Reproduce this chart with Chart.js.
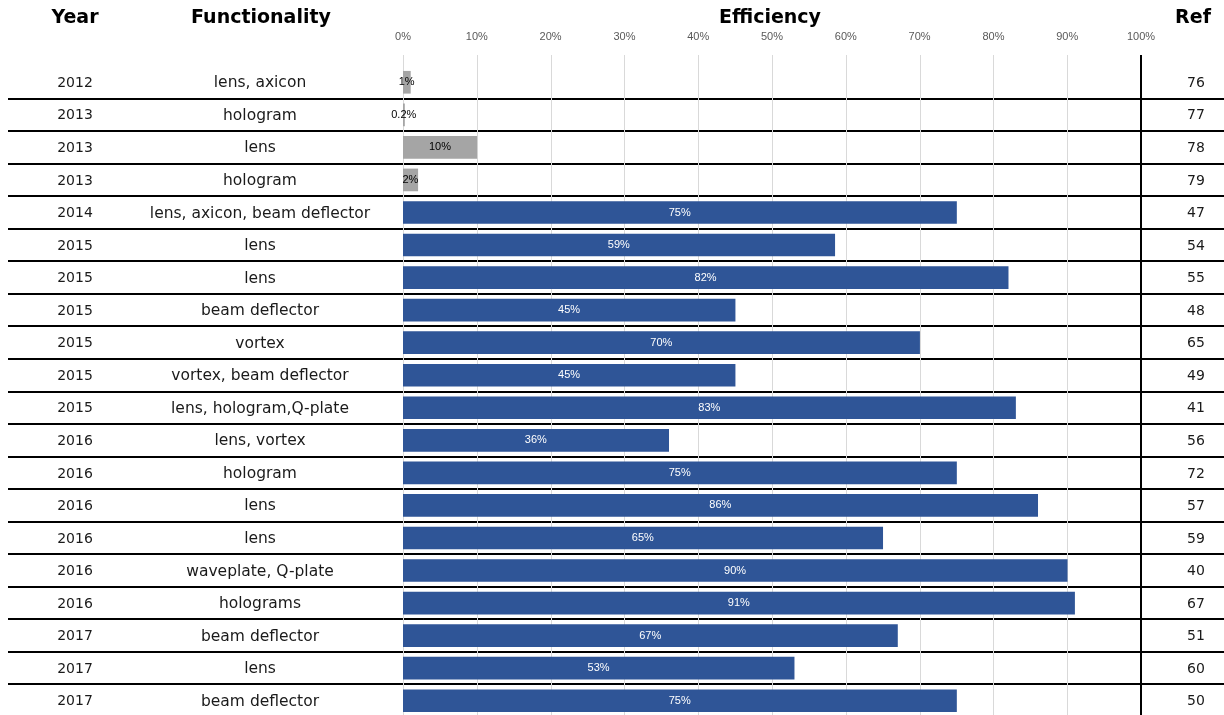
<!DOCTYPE html>
<html><head><meta charset="utf-8">
<script src="https://cdn.jsdelivr.net/npm/chart.js@4"></script>
<style>html,body{margin:0;padding:0;background:#fff;overflow:hidden}#wrap{width:1224px;height:717px;position:relative}</style>
</head><body><div id="wrap"><canvas id="c"></canvas></div>
<script>
const years = ["2012","2013","2013","2013","2014","2015","2015","2015","2015","2015","2015","2016","2016","2016","2016","2016","2016","2017","2017","2017"];
const functionality = ["lens, axicon","hologram","lens","hologram","lens, axicon, beam deflector","lens","lens","beam deflector","vortex","vortex, beam deflector","lens, hologram,Q-plate","lens, vortex","hologram","lens","lens","waveplate, Q-plate","holograms","beam deflector","lens","beam deflector"];
const efficiency = [1,0.2,10,2,75,58.5,82,45,70,45,83,36,75,86,65,90,91,67,53,75];
const refs = ["76","77","78","79","47","54","55","48","65","49","41","56","72","57","59","40","67","51","60","50"];
const xTicks = [0,10,20,30,40,50,60,70,80,90,100];
const headers = ["Year","Functionality","Efficiency","Ref"];

const GRAY = '#A5A5A5', BLUE = '#2F5597';
const TXT = "'DejaVu Sans', sans-serif";

const tablePlugin = {
  id: 'table',
  beforeDatasetsDraw(chart) {
    const ctx = chart.ctx, xs = chart.scales.x, ys = chart.scales.y, ca = chart.chartArea;
    ctx.save();
    ctx.strokeStyle = '#000'; ctx.lineWidth = 2;
    for (let i = 0; i < years.length - 1; i++) {
      const y = Math.round((ys.getPixelForValue(i) + ys.getPixelForValue(i + 1)) / 2);
      ctx.beginPath(); ctx.moveTo(8, y); ctx.lineTo(1224, y); ctx.stroke();
    }
    ctx.strokeStyle = '#D9D9D9'; ctx.lineWidth = 1;
    xTicks.slice(0, -1).forEach(t => {
      const x = Math.round(xs.getPixelForValue(t)) + 0.5;
      ctx.beginPath(); ctx.moveTo(x, 55); ctx.lineTo(x, ca.bottom); ctx.stroke();
    });
    ctx.restore();
  },
  afterDatasetsDraw(chart) {
    const ctx = chart.ctx, meta = chart.getDatasetMeta(0);
    ctx.save();
    ctx.font = "11px 'Liberation Sans', sans-serif";
    ctx.textAlign = 'center'; ctx.textBaseline = 'middle';
    meta.data.forEach((bar, i) => {
      const v = efficiency[i];
      const txt = (v < 1 ? v.toFixed(1) : Math.round(v)) + '%';
      ctx.fillStyle = i < 4 ? '#000' : '#fff';
      ctx.fillText(txt, (bar.x + bar.base) / 2, bar.y);
    });
    ctx.restore();
  },
  afterDraw(chart) {
    const ctx = chart.ctx, xs = chart.scales.x, ys = chart.scales.y, ca = chart.chartArea;
    ctx.save();
    ctx.strokeStyle = '#000'; ctx.lineWidth = 2;
    const x100 = Math.round(xs.getPixelForValue(100));
    ctx.beginPath(); ctx.moveTo(x100, 55); ctx.lineTo(x100, ca.bottom); ctx.stroke();
    ctx.fillStyle = '#000';
    ctx.font = "bold 19px " + TXT;
    ctx.textBaseline = 'middle'; ctx.textAlign = 'center';
    ctx.fillText(headers[0], 75, 18);
    ctx.fillText(headers[1], 261, 18);
    ctx.fillText(headers[2], (xs.left + xs.right) / 2 - 2, 18);
    ctx.fillText(headers[3], 1193, 18);
    ctx.fillStyle = '#1a1a1a';
    ctx.textAlign = 'center';
    years.forEach((yr, i) => {
      const y = ys.getPixelForValue(i) + 1;
      ctx.font = "14px " + TXT;
      ctx.fillText(yr, 75, y);
      ctx.fillText(refs[i], 1196, y);
      ctx.font = "15.5px " + TXT;
      ctx.fillText(functionality[i], 260, y);
    });
    ctx.restore();
  }
};

new Chart(document.getElementById('c'), {
  type: 'bar',
  data: {
    labels: functionality,
    datasets: [{
      data: efficiency,
      backgroundColor: efficiency.map((v, i) => i < 4 ? GRAY : BLUE),
      barThickness: 22,
      borderWidth: 0
    }]
  },
  options: {
    indexAxis: 'y',
    responsive: true,
    maintainAspectRatio: false,
    animation: false,
    layout: { padding: { left: 403, right: 83, top: 0, bottom: 0 } },
    plugins: { legend: { display: false }, tooltip: { enabled: false } },
    scales: {
      x: {
        type: 'linear', position: 'top', min: 0, max: 100,
        afterFit(scale) { scale.height = 66; },
        grid: { display: false, drawTicks: false, tickLength: 0 },
        border: { display: false },
        ticks: {
          stepSize: 10, padding: 22, color: '#595959',
          font: { family: "'Liberation Sans', sans-serif", size: 11 },
          callback: v => v + '%'
        }
      },
      y: { type: 'category', display: false, offset: true }
    }
  },
  plugins: [tablePlugin]
});
</script>
</body></html>
